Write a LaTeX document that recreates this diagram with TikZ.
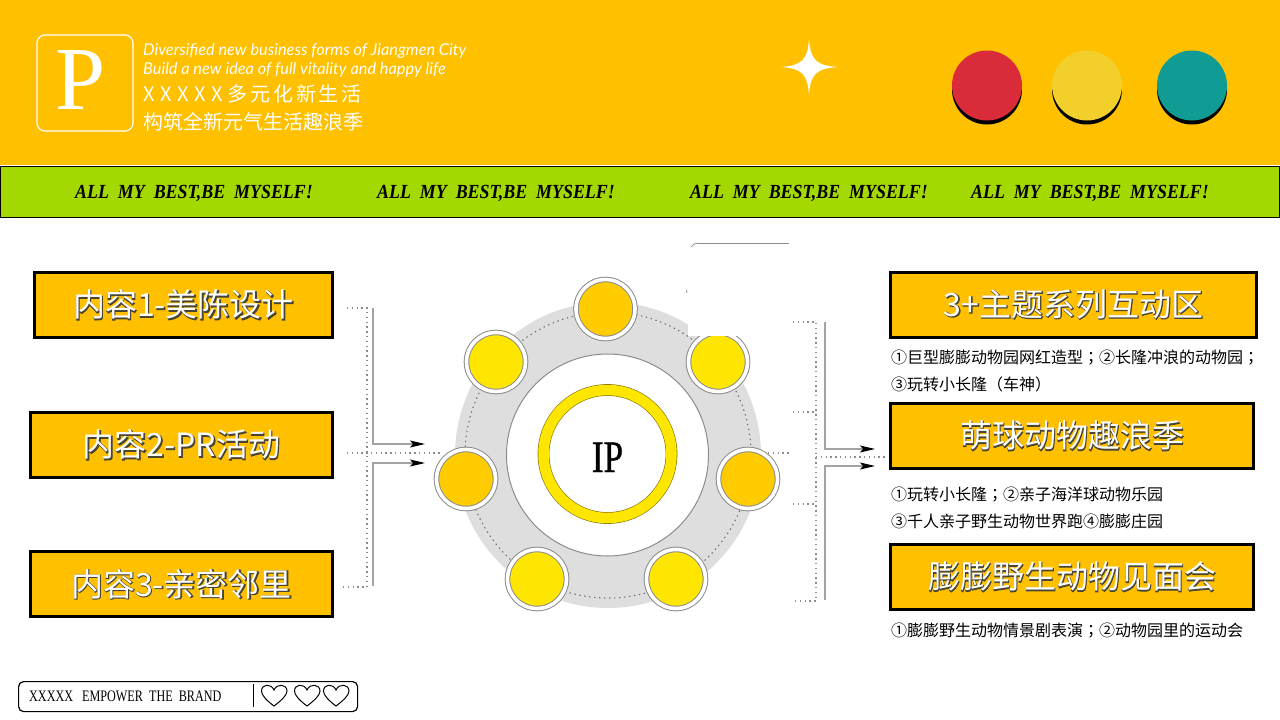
\documentclass[tikz,border=0pt]{standalone}
\usepackage{fontspec}
\usepackage{xcolor}
\usepackage{graphicx}
\usetikzlibrary{positioning, calc, arrows.meta}
\setmainfont{Liberation Serif}
\newfontfamily\cjkfont{Noto Sans CJK SC}
\newfontfamily\tcfont{Noto Sans CJK TC}
\newfontfamily\boxfont[FakeBold=3]{Noto Sans CJK SC}
\newfontfamily\ipfont[FakeBold=1]{Liberation Serif}
\newfontfamily\handfont{Lato}
\definecolor{outlinedark}{HTML}{4A4530}
\newcommand{\outlined}[1]{\rlap{\raisebox{-0.5pt}{\kern0.5pt\boxfont\color{outlinedark}#1}}{\cjkfont\color{white}#1}}
\definecolor{headeryellow}{HTML}{FFC000}
\definecolor{bandgreen}{HTML}{A3D900}
\definecolor{ringgray}{HTML}{DEDEDE}
\definecolor{dotorange}{HTML}{FFCC00}
\definecolor{dotyellow}{HTML}{FFE600}
\definecolor{linegray}{HTML}{8C8C8C}

\begin{document}
\begin{tikzpicture}[x=1pt, y=-1pt,
    titlebox/.style={rectangle,
      draw=black,
      line width=3pt,
      fill=headeryellow,
      text=white,
      font=\fontsize{32}{32}\selectfont,
      inner sep=0pt,
      outer sep=0pt,
      anchor=north west},
    notetext/.style={font=\cjkfont\fontsize{16}{16}\selectfont,
      inner sep=0pt,
      anchor=west},
    mottotext/.style={font=\bfseries\itshape\fontsize{20}{20}\selectfont,
      inner sep=0pt},
    logotext/.style={text=white,
      inner sep=0pt,
      anchor=west},
    ipdot/.style={circle,
      draw=linegray,
      line width=1pt,
      double=white,
      double distance=3.6pt,
      minimum size=59pt,
      inner sep=0pt,
      outer sep=0pt},
    feedline/.style={linegray!80, line width=1.2pt, -{Stealth[black, length=15pt, width=7pt, inset=3pt]}},
    bracket/.style={linegray, line width=1.1pt, dash pattern=on 1.4pt off 3.4pt}]

  \useasboundingbox (0,0) rectangle (1280,720);

% HEADER

  \fill[headeryellow] (0,0) rectangle (1280,165);
  \draw[black, fill=bandgreen, line width=0.8pt] (0.5,166.5) rectangle (1279.5,217);

  \node [draw=white, rounded corners=8pt, line width=1.2pt, minimum size=96pt,
    inner sep=0pt, text=white, font=\fontsize{90}{90}\selectfont] (logo) at (85,83)
    {\hspace*{-8pt}\raisebox{5pt}{P}};

  \node [logotext, font=\handfont\itshape\fontsize{16.3}{16.3}\selectfont] (slogan) at (143,50.5)
    {Diversified new business forms of Jiangmen City};
  \node [logotext, font=\handfont\itshape\fontsize{16.3}{16.3}\selectfont, below=19pt of slogan.west, anchor=west] (sloganb)
    {Build a new idea of full vitality and happy life};
  \node [logotext, font=\cjkfont\fontsize{20}{20}\selectfont] (citytitle) at (143,94)
    {{\addfontfeature{LetterSpace=28}XXXXX}\kern5pt{\addfontfeature{LetterSpace=13.5}多元化新生活}};
  \node [logotext, font=\cjkfont\fontsize{20}{20}\selectfont, below=28pt of citytitle.west, anchor=west] (citysub)
    {构筑全新元气生活趣浪季};

  \fill[white] (809,39) .. controls (810.5,60) and (816,65.5) .. (838,67)
    .. controls (816,68.5) and (810.5,74) .. (809,95)
    .. controls (807.5,74) and (802,68.5) .. (781,67)
    .. controls (802,65.5) and (807.5,60) .. (809,39) -- cycle;

  \fill[black] (987,89.5) circle [radius=35pt];
  \fill[black] (1087,89.5) circle [radius=35pt];
  \fill[black] (1192,89.5) circle [radius=35pt];
  \node [circle, fill={rgb,255:red,218;green,43;blue,58}, minimum size=70pt] (reddot) at (987,85.5) {};
  \node [circle, fill={rgb,255:red,242;green,207;blue,42}, minimum size=70pt] (yellowdot) at (1087,85.5) {};
  \node [circle, fill={rgb,255:red,16;green,156;blue,148}, minimum size=70pt] (greendot) at (1192,85.5) {};

  \node [mottotext] (mottoa) at (194,193) {\scalebox{0.895}[1]{ALL\ \ MY\ \ BEST,BE\ \ MYSELF!}};
  \node [mottotext] (mottob) at (496,193) {\scalebox{0.895}[1]{ALL\ \ MY\ \ BEST,BE\ \ MYSELF!}};
  \node [mottotext] (mottoc) at (809,193) {\scalebox{0.895}[1]{ALL\ \ MY\ \ BEST,BE\ \ MYSELF!}};
  \node [mottotext] (mottod) at (1090,193) {\scalebox{0.895}[1]{ALL\ \ MY\ \ BEST,BE\ \ MYSELF!}};

% LEFT BOXES

  \node [titlebox, minimum width=298pt, minimum height=65pt] (contenta) at (34.5,272.5)
    {\outlined{内容1-美陈设计}};
  \node [titlebox, minimum width=302pt, minimum height=65pt] (contentb) at (30.5,412.5)
    {\outlined{内容2-PR活动}};
  \node [titlebox, minimum width=302pt, minimum height=65pt] (contentc) at (30.5,551.5)
    {\outlined{内容3-亲密邻里}};

% RING

  \node [circle, fill=ringgray, minimum size=306pt, inner sep=0pt] (ring) at (608,455) {};
  \draw[linegray!80!black, line width=1.1pt, dash pattern=on 1.4pt off 3.6pt] (ring.center) circle [radius=143pt];
  \node [circle, fill=white, draw=linegray, line width=1pt, minimum size=202pt, inner sep=0pt] (disc) at (607.5,455) {};
  \node [circle, fill=white, draw=black!50!dotyellow, line width=0.6pt, double=dotyellow,
    double distance=10.5pt, minimum size=128pt, inner sep=0pt,
    font=\ipfont\fontsize{45}{45}\selectfont] (core) at (607.5,454) {\raisebox{-18pt}[0pt][0pt]{\scalebox{0.78}[1]{IP}}};

  \node [ipdot, fill=dotorange] (dottop) at (605.5,309) {};
  \node [ipdot, fill=dotyellow] (dotnw) at (496,362) {};
  \node [ipdot, fill=dotyellow] (dotne) at (718,362) {};
  \node [ipdot, fill=dotorange] (dotw) at (466,479) {};
  \node [ipdot, fill=dotorange] (dote) at (748,479) {};
  \node [ipdot, fill=dotyellow] (dotsw) at (537,579) {};
  \node [ipdot, fill=dotyellow] (dotse) at (676,579) {};

  % white patch over the ring
  \fill[white] (688,243) rectangle (800,336);
  \draw[linegray, line width=0.8pt] (698,243) -- (789,243);
  \draw[linegray, line width=0.8pt] (698,243) arc [start angle=90, end angle=150, radius=8pt];
  \draw[linegray, line width=0.8pt] (687,293) -- (686.5,290);

% RIGHT BOXES

  \node [titlebox, minimum width=366pt, minimum height=65pt] (themea) at (890.5,272)
    {\outlined{3+主题系列互动区}};
  \node [notetext, anchor=north west] (notea) at (891,349.5) {①巨型膨膨动物园网红造型{\tcfont ；}②长隆冲浪的动物园{\tcfont ；}};
  \node [notetext, below=27pt of notea.west, anchor=west] (noteb) {③玩转小长隆{\tcfont （}车神{\tcfont ）}};

  \node [titlebox, minimum width=363pt, minimum height=65pt] (themeb) at (890.5,403.5)
    {\outlined{萌球动物趣浪季}};
  \node [notetext, anchor=north west] (notec) at (891,486.5) {①玩转小长隆{\tcfont ；}②亲子海洋球动物乐园};
  \node [notetext, below=27pt of notec.west, anchor=west] (noted) {③千人亲子野生动物世界跑④膨膨庄园};

  \node [titlebox, minimum width=363pt, minimum height=65pt] (themec) at (890.5,544.5)
    {\outlined{膨膨野生动物见面会}};
  \node [notetext, anchor=north west] (notee) at (891,622.5) {①膨膨野生动物情景剧表演{\tcfont ；}②动物园里的运动会};

% BRACKETS

  \coordinate (lefttop) at (347,308);
  \coordinate (leftcorner) at (367,308);
  \coordinate (leftlow) at (367,587);
  \coordinate (leftbottom) at (343,587);
  \coordinate (leftin) at (347,453);
  \coordinate (leftout) at (441,453);
  \coordinate (leftsolida) at (373,308);
  \coordinate (leftsolidb) at (373,586);
  \coordinate (lefttipa) at (425,444);
  \coordinate (lefttipb) at (425,463);

  \draw[bracket] (lefttop) -- (leftcorner) -- (leftlow) -- (leftbottom);
  \draw[bracket] (leftin) -- (leftout);
  \draw[feedline] (leftsolida) |- (lefttipa);
  \draw[feedline] (leftsolidb) |- (lefttipb);

  \coordinate (righttop) at (793,322);
  \coordinate (rightcorner) at (816,322);
  \coordinate (rightlow) at (816,601);
  \coordinate (rightbottom) at (793,601);
  \coordinate (rightstuba) at (793,412);
  \coordinate (rightstubb) at (793,504);
  \coordinate (rightin) at (816,457);
  \coordinate (rightout) at (885,457);
  \coordinate (ringout) at (768,453);
  \coordinate (ringend) at (789,453);
  \coordinate (rightsolida) at (825,322);
  \coordinate (rightsolidb) at (825,600);
  \coordinate (righttipa) at (875,449);
  \coordinate (righttipb) at (875,466);

  \draw[bracket] (righttop) -- (rightcorner) -- (rightlow) -- (rightbottom);
  \draw[bracket] (rightstuba) -- (rightstuba -| rightcorner);
  \draw[bracket] (rightstubb) -- (rightstubb -| rightcorner);
  \draw[bracket] (rightin) -- (rightout);
  \draw[bracket] (ringout) -- (ringend);
  \draw[feedline] (rightsolida) |- (righttipa);
  \draw[feedline] (rightsolidb) |- (righttipb);

% FOOTER

  \node [draw=black, rounded corners=5pt, line width=1.2pt, minimum width=339pt,
    minimum height=30pt, inner sep=0pt, anchor=north west] (brandbar) at (18,681) {};
  \node [inner sep=0pt, anchor=west, font=\fontsize{16}{16}\selectfont] (brandtext) at (29,696)
    {\scalebox{0.76}[1]{XXXXX\ \ \ EMPOWER\ \ THE\ \ BRAND}};
  \draw[black, line width=0.8pt] (253,684) -- (253,707);

  \draw[black, line width=1pt] (274,706) .. controls (266,700) and (261.5,695) .. (261.5,691)
    .. controls (261.5,684) and (271,683) .. (274,690)
    .. controls (277,683) and (287,684) .. (287,691)
    .. controls (287,695) and (282,700) .. (274,706) -- cycle;
  \draw[black, line width=1pt] (307,706) .. controls (299,700) and (294.5,695) .. (294.5,691)
    .. controls (294.5,684) and (304,683) .. (307,690)
    .. controls (310,683) and (320,684) .. (320,691)
    .. controls (320,695) and (315,700) .. (307,706) -- cycle;
  \draw[black, line width=1pt] (336,706) .. controls (328,700) and (323.5,695) .. (323.5,691)
    .. controls (323.5,684) and (333,683) .. (336,690)
    .. controls (339,683) and (349,684) .. (349,691)
    .. controls (349,695) and (344,700) .. (336,706) -- cycle;

\end{tikzpicture}
\end{document}
